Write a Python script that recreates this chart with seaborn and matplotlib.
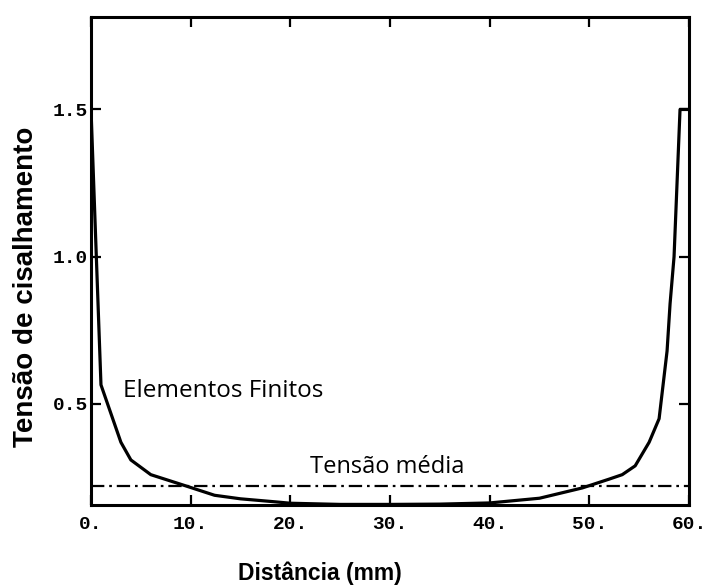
import matplotlib
matplotlib.use("Agg")
import matplotlib.pyplot as plt
import seaborn as sns
import pandas as pd

# ---- data ----
distancia = [0.0, 1.0, 3.0, 4.0, 6.0, 9.5, 12.4, 15.0, 18.4, 20.0, 25.0, 30.0,
             35.0, 40.0, 45.0, 49.3, 52.0, 53.3, 54.6, 56.0, 57.0, 57.8, 58.1,
             58.5, 58.8, 59.1, 60.0]
tensao = [1.50, 0.565, 0.37, 0.31, 0.26, 0.222, 0.19, 0.178, 0.168, 0.163, 0.159,
          0.159, 0.16, 0.164, 0.18, 0.215, 0.245, 0.26, 0.29, 0.37, 0.45, 0.68,
          0.84, 1.0, 1.25, 1.50, 1.50]
media_x = [0.0, 60.0]
media_y = [0.22, 0.22]

xticks = [0, 10, 20, 30, 40, 50, 60]
xtick_labels = ["0.", "10.", "20.", "30.", "40.", "50.", "60."]
yticks = [0.5, 1.0, 1.5]
ytick_labels = ["0.5", "1.0", "1.5"]

label_fem = "Elementos Finitos"
label_media = "Tensão média"
xlabel = "Distância (mm)"
ylabel = "Tensão de cisalhamento"

# ---- style ----
sns.set_theme(style="white")
plt.rcParams["font.family"] = ["Liberation Sans", "DejaVu Sans"]

W, H = 709, 587
fig = plt.figure(figsize=(W / 100, H / 100), dpi=100)
L, R, T, B = 91, 689, 17, 505
ax = fig.add_axes([L / W, 1 - B / H, (R - L) / W, (B - T) / H])

df = pd.DataFrame({"dist": distancia, "tensao": tensao})
sns.lineplot(data=df, x="dist", y="tensao", sort=False, estimator=None,
             color="black", linewidth=2.3, ax=ax)

dm = pd.DataFrame({"x": media_x, "y": media_y})
sns.lineplot(data=dm, x="x", y="y", sort=False, estimator=None,
             color="black", linewidth=1.6, ax=ax)
ax.lines[-1].set_linestyle((0, (6, 2.2, 1.2, 2.2)))

ax.set_xlim(0, 60)
ax.set_ylim(0.157, 1.814)

ax.set_xticks(xticks)
ax.set_xticklabels(xtick_labels)
ax.set_yticks(yticks)
ax.set_yticklabels(ytick_labels)

for lab in ax.get_xticklabels() + ax.get_yticklabels():
    lab.set_fontfamily(["Liberation Mono", "DejaVu Sans Mono"])
    lab.set_fontsize(14)
    lab.set_fontweight("bold")
    lab.set_color("black")

ax.tick_params(axis="both", which="major", direction="in", length=7, width=1.6,
               color="black", top=True, right=True, bottom=True, left=True)
ax.tick_params(axis="x", pad=8)
ax.tick_params(axis="y", pad=2)

for sp in ax.spines.values():
    sp.set_visible(True)
    sp.set_color("black")
    sp.set_linewidth(2.2)

ax.set_xlabel("")
ax.set_ylabel("")
ax.grid(False)
ax.set_facecolor("white")

ax.text(3.2, 0.524, label_fem, ha="left", va="baseline",
        fontsize=17.5, family=["Open Sans", "DejaVu Sans"], color="black")
ax.text(22.0, 0.266, label_media, ha="left", va="baseline",
        fontsize=17, family=["Open Sans", "DejaVu Sans"], color="black")

fig.text(320 / W, 1 - 580 / H, xlabel, ha="center", va="baseline",
         fontsize=16.5, fontweight="bold", color="black")
fig.text(33 / W, 1 - 287 / H, ylabel, ha="center", va="baseline",
         rotation=90, rotation_mode="anchor",
         fontsize=20, fontweight="bold", color="black")

fig.savefig("out.png", dpi=100, facecolor="white")
